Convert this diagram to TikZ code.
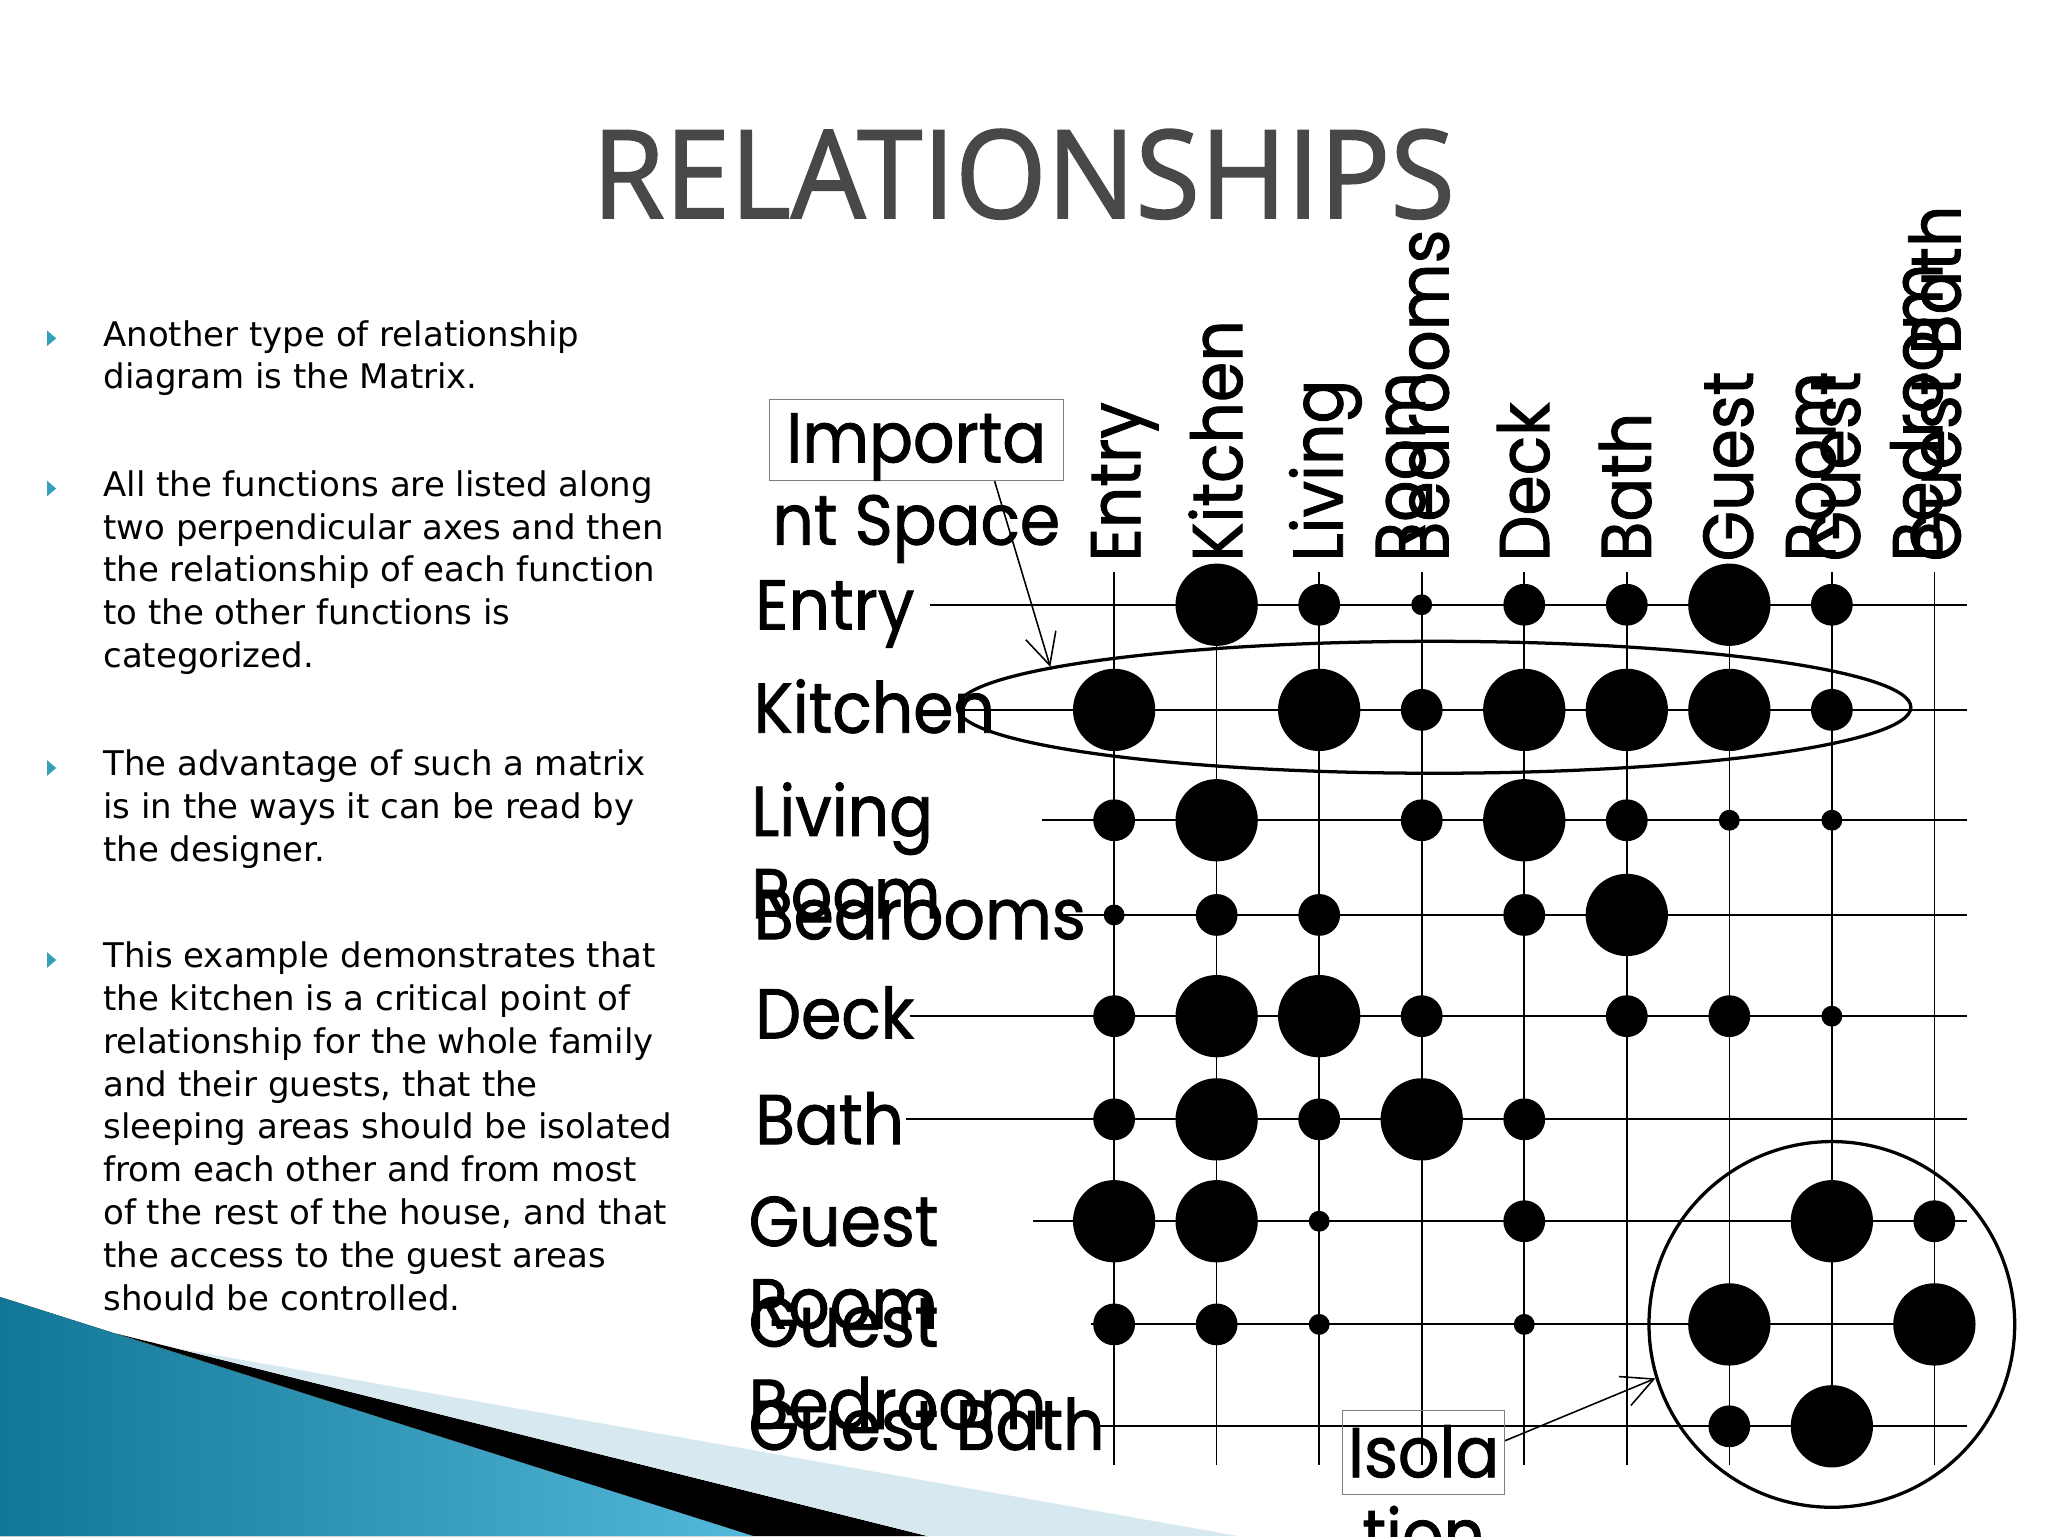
\documentclass[tikz,border=0pt]{standalone}
\usepackage{fontspec}
\usepackage{graphicx}
\usetikzlibrary{arrows.meta}
\usetikzlibrary{positioning}
\usetikzlibrary{calc}
\usetikzlibrary{shapes.geometric}
\newfontfamily\bodyfont{DejaVu Sans}
\newfontfamily\handfont[FakeStretch=0.92,FakeBold=1.2]{Poppins}
\newfontfamily\headfont[FakeBold=1.5]{Open Sans}
\definecolor{swoopdark}{RGB}{18,118,150}
\definecolor{swooplight}{RGB}{84,184,218}
\definecolor{swoopmist}{RGB}{214,232,240}
\definecolor{bulletteal}{RGB}{52,160,186}
\definecolor{headgray}{RGB}{72,72,72}

\begin{document}
\begin{tikzpicture}[x=1pt,y=-1pt,>={Straight Barb[length=24pt,width=24pt]}]
	\tikzset{bodytext/.style = {anchor=base west, inner sep=0, align=left, font=\bodyfont\fontsize{26}{32.75}\selectfont},
		hand/.style = {inner sep=0, align=left, font=\handfont\fontsize{54}{63}\selectfont},
		rowlabel/.style = {hand, anchor=base west},
		collabel/.style = {hand, anchor=base west, rotate=90},
		textbox/.style = {draw=gray, line width=0.8pt, inner sep=0},
		hline/.style = {line width=1.6pt},
		vline/.style = {line width=1.2pt},
		dotS/.style = {circle, fill, inner sep=0, minimum size=16pt},
		dotM/.style = {circle, fill, inner sep=0, minimum size=32pt},
		dotL/.style = {circle, fill, inner sep=0, minimum size=63pt},
		ring/.style = {draw, line width=2.5pt, inner sep=0},
		pointer/.style = {->, line width=1.2pt}}
	\fill[white] (0,0) rectangle (1568,1176);
	\useasboundingbox (0,0) rectangle (1568,1176);
	\clip (0,0) rectangle (1568,1176);
	
	\fill[left color=swoopdark, right color=swooplight] (0,993) -- (577,1176) -- (0,1176) -- cycle;
	\fill[black] (89,1021) -- (710,1176) -- (577,1176) -- cycle;
	\fill[swoopmist] (134,1032) -- (948,1176) -- (710,1176) -- cycle;
	
	\node[anchor=south west, inner sep=0, text=headgray] (TITLE) at (453,168) {\resizebox{660pt}{68pt}{\headfont RELATIONSHIPS}};
	
	% base anchor of a several-line node sits on its last line
	\node[bodytext] (P1) at (79,297.75) {Another type of relationship\\diagram is the Matrix.};
	\node[bodytext] (P2) at (79,511) {All the functions are listed along\\two perpendicular axes and then\\the relationship of each function\\to the other functions is\\categorized.};
	\node[bodytext] (P3) at (79,659.5) {The advantage of such a matrix\\is in the ways it can be read by\\the designer.};
	\node[bodytext] (P4) at (79,1003) {This example demonstrates that\\the kitchen is a critical point of\\relationship for the whole family\\and their guests, that the\\sleeping areas should be isolated\\from each other and from most\\of the rest of the house, and that\\the access to the guest areas\\should be controlled.};
	\foreach \b in {265,380,594,741}
		\fill[bulletteal] (36,{\b-12}) -- (43,{\b-6}) -- (36,\b) -- cycle;
	
	\foreach \i/\y in {1/463,2/543.5,3/628,4/700.5,5/778,6/857,7/935,8/1014,9/1092}
		\coordinate (r\i) at (0,\y);
	\foreach \i in {1,...,9}
		\coordinate (c\i) at ({853+78.5*(\i-1)},0);
	\foreach \i in {1,...,9}
		\draw[vline] ($(c\i)+(0,438)$) -- ($(c\i)+(0,1122)$);
	\foreach \i/\xs in {1/712,2/733,3/798,4/812,5/697,6/694,7/791,8/835,9/838}
		\draw[hline] ($(r\i)+(\xs,0)$) -- ($(r\i)+(1506,0)$);
	
	\foreach \r/\c/\s in {1/2/L,1/3/M,1/4/S,1/5/M,1/6/M,1/7/L,1/8/M,
		2/1/L,2/3/L,2/4/M,2/5/L,2/6/L,2/7/L,2/8/M,
		3/1/M,3/2/L,3/4/M,3/5/L,3/6/M,3/7/S,3/8/S,
		4/1/S,4/2/M,4/3/M,4/5/M,4/6/L,
		5/1/M,5/2/L,5/3/L,5/4/M,5/6/M,5/7/M,5/8/S,
		6/1/M,6/2/L,6/3/M,6/4/L,6/5/M,
		7/1/L,7/2/L,7/3/S,7/5/M,7/8/L,7/9/M,
		8/1/M,8/2/M,8/3/S,8/5/S,8/7/L,8/9/L,
		9/7/M,9/8/L}
		\node[dot\s] (D\r\c) at (c\c |- r\r) {};
	
	\node[rowlabel] (ROWENTRY) at (578,482) {Entry};
	\node[rowlabel] (ROWKITCHEN) at (577,561) {Kitchen};
	\node[rowlabel] (ROWLIVING) at (575,703) {Living\\Room};
	\node[rowlabel] (ROWBEDROOMS) at (577,719) {Bedrooms};
	\node[rowlabel] (ROWDECK) at (578,795) {Deck};
	\node[rowlabel] (ROWBATH) at (578,876) {Bath};
	\node[rowlabel] (ROWGUESTROOM) at (573,1017) {Guest\\Room};
	\node[rowlabel] (ROWGUESTBED) at (573,1094) {Guest\\Bedroom};
	\node[rowlabel] (ROWGUESTBATH) at (573,1110) {Guest Bath};
	
	\node[collabel] (COLENTRY) at (873,430) {Entry};
	\node[collabel] (COLKITCHEN) at (951,430) {Kitchen};
	\node[collabel] (COLLIVING) at (1091,430) {Living\\Room};
	\node[collabel] (COLBEDROOMS) at (1109,430) {Bedrooms};
	\node[collabel] (COLDECK) at (1186,430) {Deck};
	\node[collabel] (COLBATH) at (1264,430) {Bath};
	\node[collabel] (COLGUESTROOM) at (1405,430) {Guest\\Room};
	\node[collabel] (COLGUESTBED) at (1487,430) {Guest\\Bedroom};
	\node[collabel] (COLGUESTBATH) at (1501,430) {Guest Bath};
	
	\node[ring, ellipse, minimum width=730pt, minimum height=101pt] (KITCHENRING) at (1098,541.5) {};
	\node[ring, circle, minimum size=280pt] (GUESTRING) at (c8 |- r8) {};
	
	\node[textbox, minimum width=225pt, minimum height=62pt] (IMPBOX) at (701.5,337) {};
	\node[hand, anchor=base, align=center] (IMPTEXT) at (701.5,417) {Importa\\nt Space};
	\node[textbox, minimum width=124pt, minimum height=64pt] (ISOBOX) at (1090,1112) {};
	\node[hand, anchor=base, align=center] (ISOTEXT) at (1090,1194) {Isola\\tion};
	
	\draw[pointer] ([xshift=60pt]IMPBOX.south) -- (KITCHENRING.174);
	\draw[pointer] ([yshift=9pt]ISOBOX.east) -- (GUESTRING.197);
\end{tikzpicture}
\end{document}
